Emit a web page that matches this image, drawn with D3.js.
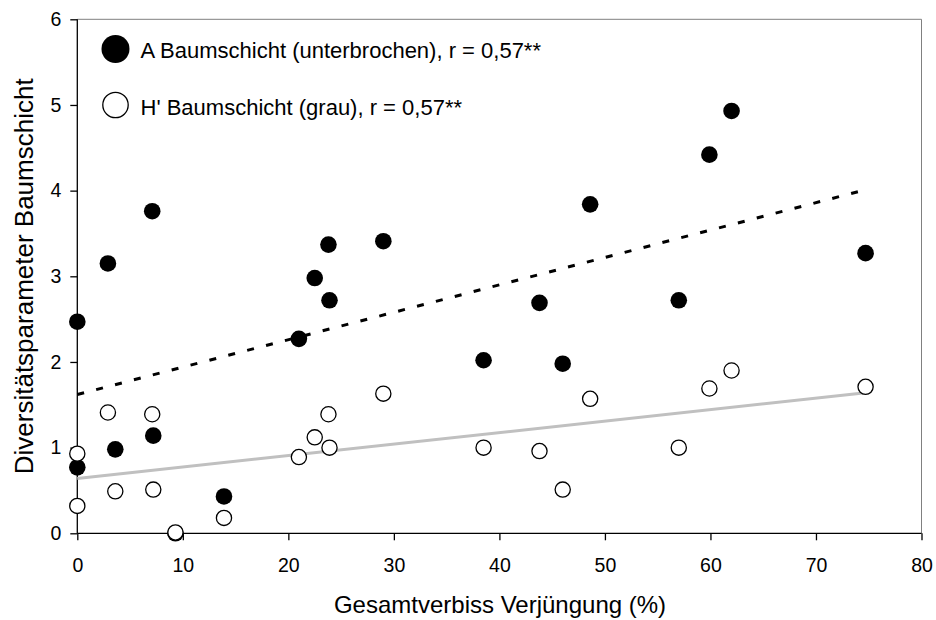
<!DOCTYPE html>
<html>
<head>
<meta charset="utf-8">
<script src="https://cdn.jsdelivr.net/npm/d3@7"></script>
<style>
  body { margin: 0; background: #fff; }
  svg { display: block; font-family: "Liberation Sans", Arial, sans-serif; }
</style>
</head>
<body>
<svg id="chart" width="936" height="620"></svg>
<script>
// Data
const verbiss = [0, 0, 2.9, 3.6, 7.1, 7.2, 9.3, 13.9, 21.0, 22.5, 23.8, 23.9, 29.0, 38.5, 43.8, 46.0, 48.6, 57.0, 59.9, 62.0, 74.7];
const aValues = [2.47, 0.77, 3.15, 0.98, 3.76, 1.14, 0.0, 0.43, 2.27, 2.98, 3.37, 2.72, 3.41, 2.02, 2.69, 1.98, 3.84, 2.72, 4.42, 4.93, 3.27];
const hValues = [0.93, 0.32, 1.41, 0.49, 1.39, 0.51, 0.01, 0.18, 0.89, 1.12, 1.39, 1.00, 1.63, 1.00, 0.96, 0.51, 1.57, 1.00, 1.69, 1.90, 1.71];
const trendA = [[0, 1.62], [74.7, 4.01]];
const trendH = [[0, 0.64], [74.7, 1.64]];
const xTicks = [0, 10, 20, 30, 40, 50, 60, 70, 80];
const yTicks = [0, 1, 2, 3, 4, 5, 6];
const legendLabels = ["A Baumschicht (unterbrochen), r = 0,57**", "H' Baumschicht (grau), r = 0,57**"];
const xTitle = "Gesamtverbiss Verjüngung (%)";
const yTitle = "Diversitätsparameter Baumschicht";

(function () {
const svg = d3.select("#chart");
const mL = 77.3, mR = 921.5, mT = 19.3, mB = 533.3;
const x = d3.scaleLinear().domain([0, 80]).range([mL, mR]);
const y = d3.scaleLinear().domain([0, 6]).range([mB, mT]);

// plot border (grey top/right)
svg.append("path")
  .attr("d", `M${mL},${mT}H${mR}V${mB}`)
  .attr("fill", "none").attr("stroke", "#808080").attr("stroke-width", 1);

// axes
const xAxis = svg.append("g").attr("transform", `translate(0,${mB})`)
  .call(d3.axisBottom(x).tickValues(xTicks).tickSize(7).tickPadding(18).tickFormat(d3.format("d")));
const yAxis = svg.append("g").attr("transform", `translate(${mL},0)`)
  .call(d3.axisLeft(y).tickValues(yTicks).tickSize(7).tickPadding(9).tickFormat(d3.format("d")));
[xAxis, yAxis].forEach(g => {
  g.select(".domain").attr("stroke", "#000").attr("stroke-width", 1.3);
  g.selectAll(".tick line").attr("stroke", "#000").attr("stroke-width", 1.3);
  g.selectAll(".tick text").attr("font-size", 19.5).attr("fill", "#000")
    .attr("font-family", "'Liberation Sans', Arial, sans-serif");
});
yAxis.select(".domain").attr("d", `M0,${mB}V${mT}`);
xAxis.select(".domain").attr("d", `M${mL},0H${mR}`);

// trend lines
const line = d3.line().x(d => x(d[0])).y(d => y(d[1]));
svg.append("path").datum(trendH).attr("d", line)
  .attr("fill", "none").attr("stroke", "#c0c0c0").attr("stroke-width", 3);
svg.append("path").datum(trendA).attr("d", line)
  .attr("fill", "none").attr("stroke", "#000").attr("stroke-width", 3)
  .attr("stroke-dasharray", "7,12.5");

// points
svg.append("g").selectAll("circle").data(verbiss.map((v, i) => [v, aValues[i]]))
  .join("circle").attr("cx", d => x(d[0])).attr("cy", d => y(d[1])).attr("r", 8.3)
  .attr("fill", "#000");
svg.append("g").selectAll("circle").data(verbiss.map((v, i) => [v, hValues[i]]))
  .join("circle").attr("cx", d => x(d[0])).attr("cy", d => y(d[1])).attr("r", 7.6)
  .attr("fill", "#fff").attr("stroke", "#000").attr("stroke-width", 1.3);

// legend
const leg = svg.append("g");
leg.append("circle").attr("cx", 115.5).attr("cy", 49).attr("r", 14).attr("fill", "#000");
leg.append("circle").attr("cx", 115.5).attr("cy", 105).attr("r", 12.7)
  .attr("fill", "#fff").attr("stroke", "#000").attr("stroke-width", 1.3);
leg.selectAll("text").data(legendLabels).join("text")
  .attr("x", 140.5).attr("y", (d, i) => 58.3 + i * 56.7)
  .attr("font-size", 22).attr("fill", "#000").text(d => d);

// titles
svg.append("text").attr("x", 500).attr("y", 613)
  .attr("text-anchor", "middle").attr("font-size", 24).text(xTitle);
svg.append("text").attr("transform", `translate(33,${(mT + mB) / 2}) rotate(-90)`)
  .attr("text-anchor", "middle").attr("font-size", 26).text(yTitle);
})();
</script>
</body>
</html>
